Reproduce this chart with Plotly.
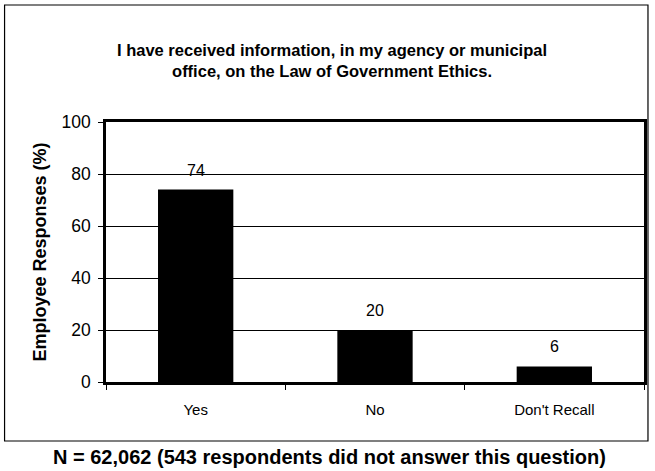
import plotly.graph_objects as go

categories = ["Yes", "No", "Don't Recall"]
responses = [74, 20, 6]
y_ticks = [0, 20, 40, 60, 80, 100]

title_text = ("<b>I have received information, in my agency or municipal<br>"
              "office, on the Law of Government Ethics.</b>")
note_text = "<b>N = 62,062 (543 respondents did not answer this question)</b>"

FONT = "Liberation Sans, Arial, sans-serif"

W, H = 655, 471
L, R, T, B = 106, 8, 122, 89
pw, ph = W - L - R, H - T - B


def px_x(x):
    return (x - L) / pw


def px_y(y):
    return (H - B - y) / ph


fig = go.Figure(
    go.Bar(
        x=categories,
        y=responses,
        marker=dict(color="black", line=dict(width=0)),
        width=0.42,
        hoverinfo="skip",
    )
)

# value labels above the bars
for c, v in zip(categories, responses):
    fig.add_annotation(
        x=c, y=v, text=str(v), showarrow=False,
        xref="x", yref="y", yanchor="bottom", yshift=9,
        font=dict(family=FONT, size=16, color="black"),
    )

# chart title
fig.add_annotation(
    x=px_x(333), y=px_y(61), xref="paper", yref="paper",
    text=title_text, showarrow=False, align="center",
    xanchor="center", yanchor="middle",
    font=dict(family=FONT, size=16.5, color="black"),
)

# footnote below the frame
fig.add_annotation(
    x=px_x(331), y=px_y(457), xref="paper", yref="paper",
    text=note_text, showarrow=False,
    xanchor="center", yanchor="middle",
    font=dict(family=FONT, size=20, color="black"),
)

# outer frame around chart
fig.add_shape(
    type="rect", xref="paper", yref="paper",
    x0=px_x(4), x1=px_x(651), y0=px_y(441), y1=px_y(5),
    line=dict(color="black", width=1.2), layer="below",
)

fig.update_layout(
    width=W, height=H,
    margin=dict(l=L, r=R, t=T, b=B, pad=0),
    paper_bgcolor="white", plot_bgcolor="white",
    showlegend=False,
    font=dict(family=FONT, color="black"),
)

fig.update_xaxes(
    type="category",
    showline=True, linecolor="black", linewidth=2.5, mirror=True,
    ticks="outside", tickson="boundaries", ticklen=5, tickcolor="black", tickwidth=1,
    ticklabelstandoff=12,
    tickfont=dict(family=FONT, size=15, color="black"),
    showgrid=False,
)

fig.update_yaxes(
    range=[0, 100],
    tickvals=y_ticks,
    showline=True, linecolor="black", linewidth=2.5, mirror=True,
    ticks="outside", ticklen=5, tickcolor="black", tickwidth=1,
    ticklabelstandoff=4,
    tickfont=dict(family=FONT, size=17.5, color="black"),
    showgrid=True, gridcolor="black", gridwidth=1,
    zeroline=False,
    title=dict(text="<b>Employee Responses (%)</b>",
               font=dict(family=FONT, size=18, color="black"), standoff=11),
)

fig.write_html("out.html")
